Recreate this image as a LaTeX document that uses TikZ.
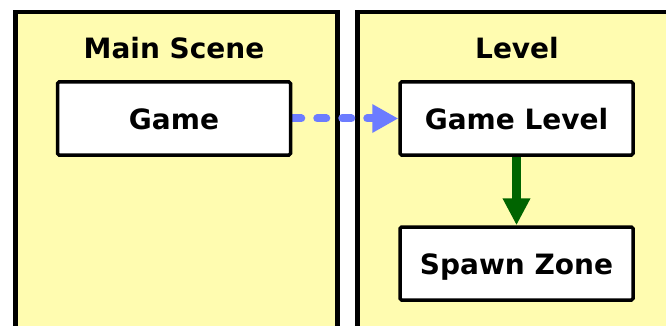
\documentclass[tikz,border=0pt]{standalone}
\usepackage{fontspec}
\setmainfont{DejaVu Sans}
\usetikzlibrary{arrows.meta}
\pgfdeclarelayer{back}
\pgfdeclarelayer{conn}
\pgfsetlayers{back,conn,main}
\definecolor{panelfill}{RGB}{255,252,176}
\definecolor{flowblue}{RGB}{108,124,255}
\definecolor{flowgreen}{RGB}{0,100,0}
\tikzset{
  panel/.style={draw=black, fill=panelfill, line width=4.5pt, inner sep=0pt, anchor=north west},
  title/.style={font=\fontsize{28}{30}\selectfont\bfseries, anchor=base, inner sep=0pt},
  box/.style={draw=black, fill=white, line width=3.5pt, rounded corners=1.5pt,
    minimum width=233pt, minimum height=73pt, inner sep=0pt,
    font=\fontsize{28}{30}\selectfont\bfseries, text height=21pt, text depth=0pt},
  blueflow/.style={draw=flowblue, line width=8pt, line cap=round,
    dash pattern=on 9pt off 16pt, -{Triangle[length=26pt,width=27pt]}},
  greenflow/.style={draw=flowgreen, line width=9.5pt,
    -{Triangle[length=27pt,width=26pt]}}
}
\begin{document}
\begin{tikzpicture}[x=1pt,y=-1pt]
\useasboundingbox (0,0) rectangle (666,326);
\begin{pgfonlayer}{back}
  \clip (0,0) rectangle (666,326);
  \node[panel, minimum width=322.3pt, minimum height=340pt] (mainpanel) at (13,10) {};
  \node[panel, minimum width=330pt, minimum height=340pt] (levelpanel) at (355.3,10) {};
\end{pgfonlayer}
\node[title] (maintitle) at (174,59) {Main Scene};
\node[title] (leveltitle) at (517,59) {Level};
\node[box] (game) at (174,118.5) {Game};
\node[box] (level) at (516.5,118.5) {Game Level};
\node[box] (spawn) at (516.5,263.5) {Spawn Zone};
\begin{pgfonlayer}{conn}
  \draw[blueflow] (game.east) -- (level.west);
  \draw[greenflow] (level.south) -- (spawn.north);
\end{pgfonlayer}
\end{tikzpicture}
\end{document}
